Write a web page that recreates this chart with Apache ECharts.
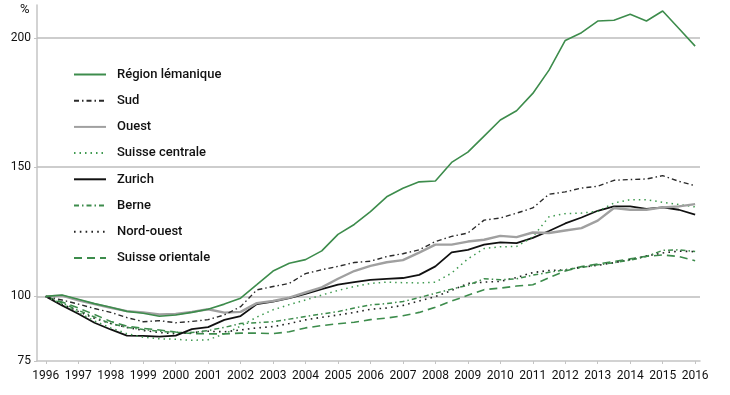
<!DOCTYPE html>
<html>
<head>
<meta charset="utf-8">
<script src="https://cdn.jsdelivr.net/npm/echarts@6/dist/echarts.min.js"></script>
<style>
html,body{margin:0;padding:0;background:#fff;}
#chart{width:730px;height:395px;}
</style>
</head>
<body>
<div id="chart"></div>
<script>
// Half-yearly points 1996..2016
const years = [];
for (let i = 0; i <= 40; i++) years.push(1996 + i * 0.5);

const yearLabels = [1996,1997,1998,1999,2000,2001,2002,2003,2004,2005,2006,2007,2008,2009,2010,2011,2012,2013,2014,2015,2016];
const yTickLabels = [75, 100, 150, 200];
const gridValues = [100, 150, 200];

const seriesNames = ['Région lémanique','Sud','Ouest','Suisse centrale','Zurich','Berne','Nord-ouest','Suisse orientale'];

const regionLemanique = [100,100.5,98.9,97.2,95.8,94.2,93.5,92.3,92.8,93.8,95,97,99.3,104.5,109.8,112.8,114.2,117.6,124,127.8,132.8,138.5,141.8,144.3,144.6,151.8,155.8,162,168.2,171.8,178.5,187.5,199,202,206.5,206.8,209.1,206.5,210.4,203.6,196.8];
const sud = [100,98.6,97,95.3,93.8,91.8,90.2,90.6,89.8,90.3,91,92.8,96,102.5,103.8,105,108.8,110.3,111.6,113.1,113.6,115.4,116.5,118,121.2,123.2,124.5,129.5,130.3,132.2,134.2,139.5,140.4,141.9,142.6,144.9,145.2,145.4,146.7,144.5,142.8];
const ouest = [100,100.3,98.5,97,95.6,94.3,93.8,93,93.2,94,95,93.7,94,97.4,98.2,99.5,101.5,103.5,106.8,109.8,111.8,113.2,114,116.9,120,120,121.2,121.9,123.4,122.9,124.7,124.5,125.5,126.4,129.3,134.2,133.5,133.5,134.4,134.8,135.7];
const suisseCentrale = [100,97,93.8,90.5,87.8,85.6,84.2,83.6,83.4,83,83.2,85.5,88.5,92,94.8,96.8,98.6,100.5,102.3,103.8,105,105.5,105.3,105.2,105.5,109,114.5,118.5,119.2,119.3,123,130.8,132,132.2,132.9,136.1,137.4,137.4,136.4,135.5,134.6];
const zurich = [100,96.5,93.3,89.8,87.2,84.8,84.7,84.4,84.8,87.3,88.1,90.9,92.4,97,98,99.3,101,102.8,104.5,105.5,106.4,106.8,107.1,108.3,111.6,117,118,120,120.9,120.6,122.6,125.3,128.2,130.5,133.1,134.8,134.8,133.8,134.4,133.5,131.6];
const berne = [100,97.5,94.6,92,89.5,88,87.2,86.5,86,86,86.8,88,89.5,89.8,90.2,91.2,92.2,93.2,94.1,95.5,96.7,97.2,98,99.5,101.2,102.8,104.3,106.8,106.4,106.8,108.2,109.3,110.3,111.2,112.2,113,114,115.4,117.8,118,117.4];
const nordOuest = [100,97,94.2,91.5,89.5,88,86.8,86,85.5,86,86.5,86.3,87,87.8,88.3,89.5,90.9,91.9,92.8,93.8,95,95.5,96.5,98.2,99.9,102.3,105,105.5,105.8,107.3,109.2,110,110.3,111.3,112,113,114.2,115.6,116.8,117.5,117.3];
const suisseOrientale = [100,97.8,95.5,93,90.3,88.5,87.6,87,86.2,85.6,85.5,85.5,85.8,85.8,85.6,86.3,87.8,88.7,89.4,90,91,91.6,92.5,93.8,95.8,98.2,100.4,102.6,103.2,104,104.5,107.2,109.8,111.5,112.5,113.5,114.5,115.5,116,115.4,113.8];

const values = [regionLemanique, sud, ouest, suisseCentrale, zurich, berne, nordOuest, suisseOrientale];

const GREEN = '#3d8c4c';
const styles = [
  {color: GREEN, width: 1.6, type: 'solid'},
  {color: '#2a2a2a', width: 1.4, type: [5, 3, 1.5, 3]},
  {color: '#a0a0a0', width: 2.4, type: 'solid'},
  {color: '#3f9a50', width: 1.5, type: [1.5, 4]},
  {color: '#111111', width: 1.8, type: 'solid'},
  {color: GREEN, width: 1.5, type: [5, 3, 1.5, 3]},
  {color: '#222222', width: 1.6, type: [1.6, 4.2]},
  {color: GREEN, width: 1.6, type: [8, 5]}
];

const FONT = 'Roboto, "Open Sans", sans-serif';

const series = seriesNames.map((name, i) => {
  const s = {
    name: name,
    type: 'line',
    symbol: 'none',
    showSymbol: false,
    smooth: false,
    data: years.map((y, j) => [y, values[i][j]]),
    lineStyle: styles[i],
    itemStyle: {color: styles[i].color},
    z: 10 - i,
    emphasis: {disabled: true}
  };
  if (i === 0) {
    s.markLine = {
      silent: true,
      symbol: 'none',
      label: {show: false},
      lineStyle: {color: '#bdbdbd', width: 1.5, type: 'solid'},
      data: gridValues.map(v => ({yAxis: v})),
      z: 1
    };
  }
  return s;
});

const chart = echarts.init(document.getElementById('chart'), null, {renderer: 'canvas'});
chart.setOption({
  animation: false,
  backgroundColor: '#ffffff',
  grid: {left: 37, right: 30, top: 5, bottom: 34, containLabel: false},
  legend: {
    orient: 'vertical',
    left: 73,
    top: 68,
    padding: 0,
    itemWidth: 32,
    itemHeight: 12,
    itemGap: 13.2,
    itemStyle: {opacity: 0},
    textStyle: {fontSize: 13, fontWeight: 500, color: '#111', fontFamily: FONT, padding: [0, 0, 0, 6]},
    data: seriesNames
  },
  xAxis: {
    type: 'value',
    min: 1995.73,
    max: 2016.15,
    axisLine: {show: true, lineStyle: {color: '#c4c4c4', width: 1.5}},
    axisTick: {show: true, length: 3, lineStyle: {color: '#c4c4c4'}, customValues: yearLabels},
    axisLabel: {customValues: yearLabels, formatter: v => String(Math.round(v)), color: '#111', fontSize: 12, fontFamily: FONT, margin: 9},
    splitLine: {show: false}
  },
  yAxis: {
    type: 'value',
    min: 75,
    max: 212.7,
    axisLine: {show: true, lineStyle: {color: '#c4c4c4', width: 1.5}},
    axisTick: {show: true, length: 3, lineStyle: {color: '#c4c4c4'}, customValues: yTickLabels},
    axisLabel: {customValues: yTickLabels, formatter: v => String(Math.round(v)), color: '#111', fontSize: 12, fontFamily: FONT, margin: 6},
    splitLine: {show: false}
  },
  graphic: [{
    type: 'text',
    left: 20,
    top: 3,
    style: {text: '%', fontSize: 13, fontFamily: FONT, fill: '#111'}
  }],
  series: series
});
</script>
</body>
</html>
